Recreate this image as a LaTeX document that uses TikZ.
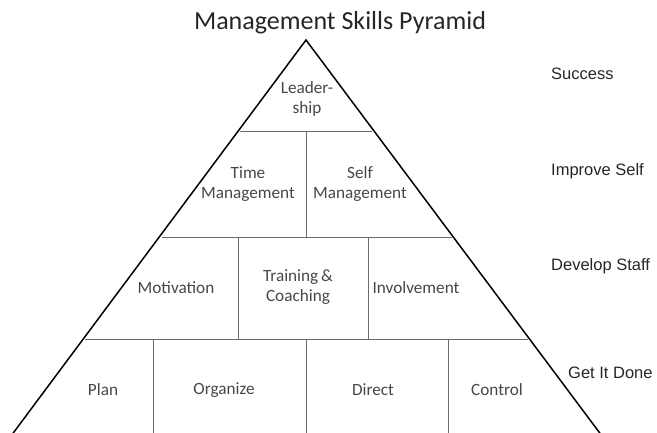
\documentclass[tikz,border=0pt]{standalone}
\usepackage{fontspec}
\setmainfont{Carlito}
\newfontfamily\arialfont{Liberation Sans}
\begin{document}
\begin{tikzpicture}[x=1pt,y=-1pt,
  side/.style={draw=black,line width=1.5pt},
  inner/.style={draw=gray!85!black,line width=0.8pt},
  cell/.style={font=\fontsize{17.2}{20}\selectfont,text=black!72,align=center,inner sep=0pt},
  lvl/.style={font=\arialfont\fontsize{16.5}{19}\selectfont,text=black!85,anchor=west,inner sep=0pt},
  ttl/.style={font=\fontsize{26}{31}\selectfont,text=black!85,anchor=base,inner sep=0pt}]
\useasboundingbox (0,0) rectangle (657,433);
\begin{scope}
\clip (0,0) rectangle (657,433);
% inner horizontal lines
\draw[inner] (240,131) -- (372,131);
\draw[inner] (162,237) -- (452,237);
\draw[inner] (85,339) -- (528,339);
% inner vertical lines
\draw[inner] (306,131) -- (306,237);
\draw[inner] (238,237) -- (238,339);
\draw[inner] (368,237) -- (368,339);
\draw[inner] (153,339) -- (153,440);
\draw[inner] (306,339) -- (306,440);
\draw[inner] (448,339) -- (448,440);
% pyramid sides
\coordinate (apex) at (306,40);
\coordinate (bl) at (8,440);
\coordinate (br) at (605,440);
\draw[side,line join=miter] (bl) -- (apex) -- (br);
\end{scope}
% title
\node[ttl] (title) at (340,30) {Management Skills Pyramid};
% cells
\node[cell] (lead) at (307,99) {Leader-\\ship};
\node[cell] (time) at (248,184) {Time\\Management};
\node[cell] (self) at (360,184) {Self\\Management};
\node[cell] (motiv) at (176,288) {Motivation};
\node[cell] (train) at (298,287) {Training\,\&\\Coaching};
\node[cell] (invol) at (416,288) {Involvement};
\node[cell] (plan) at (103,390) {Plan};
\node[cell] (org) at (224,390) {Organize};
\node[cell] (dir) at (373,390) {Direct};
\node[cell] (ctrl) at (497,390) {Control};
% level labels
\node[lvl] (succ) at (551,74) {Success};
\node[lvl] (impr) at (551,171) {Improve Self};
\node[lvl] (dev) at (551,266) {Develop Staff};
\node[lvl] (done) at (568,373) {Get It Done};
\end{tikzpicture}
\end{document}
